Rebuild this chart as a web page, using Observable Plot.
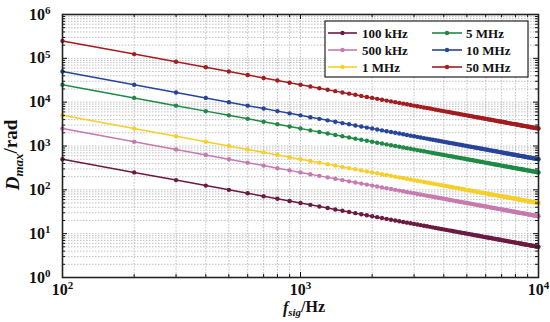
<!DOCTYPE html>
<html><head><meta charset="utf-8">
<script src="https://cdn.jsdelivr.net/npm/d3@7"></script>
<script src="https://cdn.jsdelivr.net/npm/@observablehq/plot@0.6"></script>
<style>body{margin:0;background:#fff} svg{display:block}</style>
</head><body><div id="chart"></div>
<script>
const fsig = [100,200,300,400,500,600,700,800,900,1000,
1100,1200,1300,1400,1500,1600,1700,1800,1900,2000,
2100,2200,2300,2400,2500,2600,2700,2800,2900,3000,
3100,3200,3300,3400,3500,3600,3700,3800,3900,4000,
4100,4200,4300,4400,4500,4600,4700,4800,4900,5000,
5100,5200,5300,5400,5500,5600,5700,5800,5900,6000,
6100,6200,6300,6400,6500,6600,6700,6800,6900,7000,
7100,7200,7300,7400,7500,7600,7700,7800,7900,8000,
8100,8200,8300,8400,8500,8600,8700,8800,8900,9000,
9100,9200,9300,9400,9500,9600,9700,9800,9900,10000];

const d100k = [500,250,166.7,125,100,83.33,71.43,62.5,55.56,50,
45.45,41.67,38.46,35.71,33.33,31.25,29.41,27.78,26.32,25,
23.81,22.73,21.74,20.83,20,19.23,18.52,17.86,17.24,16.67,
16.13,15.63,15.15,14.71,14.29,13.89,13.51,13.16,12.82,12.5,
12.2,11.9,11.63,11.36,11.11,10.87,10.64,10.42,10.2,10,
9.8,9.62,9.43,9.26,9.09,8.93,8.77,8.62,8.47,8.33,
8.2,8.06,7.94,7.81,7.69,7.58,7.46,7.35,7.25,7.14,
7.04,6.94,6.85,6.76,6.67,6.58,6.49,6.41,6.33,6.25,
6.17,6.1,6.02,5.95,5.88,5.81,5.75,5.68,5.62,5.56,
5.49,5.43,5.38,5.32,5.26,5.21,5.15,5.1,5.05,5];

const d500k = [2500,1250,833.3,625,500,416.7,357.1,312.5,277.8,250,
227.3,208.3,192.3,178.6,166.7,156.3,147.1,138.9,131.6,125,
119,113.6,108.7,104.2,100,96.15,92.59,89.29,86.21,83.33,
80.65,78.13,75.76,73.53,71.43,69.44,67.57,65.79,64.1,62.5,
60.98,59.52,58.14,56.82,55.56,54.35,53.19,52.08,51.02,50,
49.02,48.08,47.17,46.3,45.45,44.64,43.86,43.1,42.37,41.67,
40.98,40.32,39.68,39.06,38.46,37.88,37.31,36.76,36.23,35.71,
35.21,34.72,34.25,33.78,33.33,32.89,32.47,32.05,31.65,31.25,
30.86,30.49,30.12,29.76,29.41,29.07,28.74,28.41,28.09,27.78,
27.47,27.17,26.88,26.6,26.32,26.04,25.77,25.51,25.25,25];

const d1M = [5000,2500,1667,1250,1000,833.3,714.3,625,555.6,500,
454.5,416.7,384.6,357.1,333.3,312.5,294.1,277.8,263.2,250,
238.1,227.3,217.4,208.3,200,192.3,185.2,178.6,172.4,166.7,
161.3,156.3,151.5,147.1,142.9,138.9,135.1,131.6,128.2,125,
122,119,116.3,113.6,111.1,108.7,106.4,104.2,102,100,
98.04,96.15,94.34,92.59,90.91,89.29,87.72,86.21,84.75,83.33,
81.97,80.65,79.37,78.13,76.92,75.76,74.63,73.53,72.46,71.43,
70.42,69.44,68.49,67.57,66.67,65.79,64.94,64.1,63.29,62.5,
61.73,60.98,60.24,59.52,58.82,58.14,57.47,56.82,56.18,55.56,
54.95,54.35,53.76,53.19,52.63,52.08,51.55,51.02,50.51,50];

const d5M = [25000,12500,8333,6250,5000,4167,3571,3125,2778,2500,
2273,2083,1923,1786,1667,1563,1471,1389,1316,1250,
1190,1136,1087,1042,1000,961.5,925.9,892.9,862.1,833.3,
806.5,781.3,757.6,735.3,714.3,694.4,675.7,657.9,641,625,
609.8,595.2,581.4,568.2,555.6,543.5,531.9,520.8,510.2,500,
490.2,480.8,471.7,463,454.5,446.4,438.6,431,423.7,416.7,
409.8,403.2,396.8,390.6,384.6,378.8,373.1,367.6,362.3,357.1,
352.1,347.2,342.5,337.8,333.3,328.9,324.7,320.5,316.5,312.5,
308.6,304.9,301.2,297.6,294.1,290.7,287.4,284.1,280.9,277.8,
274.7,271.7,268.8,266,263.2,260.4,257.7,255.1,252.5,250];

const d10M = [50000,25000,16667,12500,10000,8333,7143,6250,5556,5000,
4545,4167,3846,3571,3333,3125,2941,2778,2632,2500,
2381,2273,2174,2083,2000,1923,1852,1786,1724,1667,
1613,1563,1515,1471,1429,1389,1351,1316,1282,1250,
1220,1190,1163,1136,1111,1087,1064,1042,1020,1000,
980.4,961.5,943.4,925.9,909.1,892.9,877.2,862.1,847.5,833.3,
819.7,806.5,793.7,781.3,769.2,757.6,746.3,735.3,724.6,714.3,
704.2,694.4,684.9,675.7,666.7,657.9,649.4,641,632.9,625,
617.3,609.8,602.4,595.2,588.2,581.4,574.7,568.2,561.8,555.6,
549.5,543.5,537.6,531.9,526.3,520.8,515.5,510.2,505.1,500];

const d50M = [250000,125000,83333,62500,50000,41667,35714,31250,27778,25000,
22727,20833,19231,17857,16667,15625,14706,13889,13158,12500,
11905,11364,10870,10417,10000,9615,9259,8929,8621,8333,
8065,7813,7576,7353,7143,6944,6757,6579,6410,6250,
6098,5952,5814,5682,5556,5435,5319,5208,5102,5000,
4902,4808,4717,4630,4545,4464,4386,4310,4237,4167,
4098,4032,3968,3906,3846,3788,3731,3676,3623,3571,
3521,3472,3425,3378,3333,3289,3247,3205,3165,3125,
3086,3049,3012,2976,2941,2907,2874,2841,2809,2778,
2747,2717,2688,2660,2632,2604,2577,2551,2525,2500];

const seriesNames = ["100 kHz","500 kHz","1 MHz","5 MHz","10 MHz","50 MHz"];
const seriesValues = [d100k, d500k, d1M, d5M, d10M, d50M];
const seriesColors = ["#6b1a40","#c67aae","#f5cf2a","#1e8a45","#26449a","#a31c1f"];

const xTicks = [100, 1000, 10000];
const xTickLabels = ["10^2","10^3","10^4"];
const yTicks = [1,10,100,1000,10000,100000,1000000];
const yTickLabels = ["10^0","10^1","10^2","10^3","10^4","10^5","10^6"];

const W = 550, H = 322, mL = 62, mR = 12, mT = 14, mB = 45;
const ph = H - mT - mB, pw = W - mL - mR;

const rows = [];
seriesNames.forEach((name, s) => {
  fsig.forEach((f, i) => rows.push({fsig: f, D: seriesValues[s][i], series: name}));
});

const xAll = d3.scaleLog().domain([100, 10000]).ticks();
const yAll = d3.scaleLog().domain([1, 1e6]).ticks();
const xMinor = xAll.filter(v => !xTicks.includes(v));
const yMinor = yAll.filter(v => !yTicks.includes(v));

const gridStyle = {stroke: "#b0b0b0", strokeWidth: 0.8, strokeDasharray: "1.5,1.5"};

const plot = Plot.plot({
  width: W, height: H,
  marginLeft: mL, marginRight: mR, marginTop: mT, marginBottom: mB,
  style: {fontFamily: "'Liberation Serif', 'Times New Roman', serif", fontSize: "16px", fontWeight: "bold", color: "#111", background: "#fff"},
  x: {type: "log", domain: [100, 10000]},
  y: {type: "log", domain: [1, 1e6]},
  color: {domain: seriesNames, range: seriesColors},
  marks: [
    Plot.ruleX(xAll, {x: d => d, ...gridStyle}),
    Plot.ruleY(yAll, {y: d => d, ...gridStyle}),
    Plot.line(rows, {x: "fsig", y: "D", z: "series", stroke: "series", strokeWidth: 1.5}),
    Plot.dot(rows, {x: "fsig", y: "D", fill: "series", r: 2.2}),
    // inward ticks
    Plot.tickX(xTicks, {x: d => d, insetTop: ph - 5, stroke: "#111", strokeWidth: 1}),
    Plot.tickX(xTicks, {x: d => d, insetBottom: ph - 5, stroke: "#111", strokeWidth: 1}),
    Plot.tickX(xMinor, {x: d => d, insetTop: ph - 3, stroke: "#111", strokeWidth: 1}),
    Plot.tickX(xMinor, {x: d => d, insetBottom: ph - 3, stroke: "#111", strokeWidth: 1}),
    Plot.tickY(yTicks, {y: d => d, insetRight: pw - 5, stroke: "#111", strokeWidth: 1}),
    Plot.tickY(yTicks, {y: d => d, insetLeft: pw - 5, stroke: "#111", strokeWidth: 1}),
    Plot.tickY(yMinor, {y: d => d, insetRight: pw - 3, stroke: "#111", strokeWidth: 1}),
    Plot.tickY(yMinor, {y: d => d, insetLeft: pw - 3, stroke: "#111", strokeWidth: 1}),
    Plot.axisX({ticks: xTicks, tickFormat: d => xTickLabels[xTicks.indexOf(d)], tickSize: 0, tickPadding: 6, label: null}),
    Plot.axisY({ticks: yTicks, tickFormat: d => yTickLabels[yTicks.indexOf(d)], tickSize: 0, tickPadding: 12, label: null}),
    Plot.frame({stroke: "#222", strokeWidth: 1.6})
  ]
});

document.getElementById("chart").appendChild(plot);
const svg = d3.select(plot);

// superscript exponents in tick labels
svg.selectAll("text").each(function() {
  const t = this.textContent;
  const m = /^10\^(\d+)$/.exec(t);
  if (!m) return;
  const el = d3.select(this);
  el.text("10");
  el.append("tspan").attr("dy", "-0.5em").attr("font-size", "11px").text(m[1]);
});

const font = "'Liberation Serif', 'Times New Roman', serif";

// y axis title
const yt = svg.append("text")
  .attr("transform", `translate(19,155) rotate(-90)`)
  .attr("text-anchor", "middle")
  .attr("font-family", font).attr("font-size", 19).attr("font-weight", "bold").attr("fill", "#111");
yt.append("tspan").attr("font-style", "italic").text("D");
yt.append("tspan").attr("font-style", "italic").attr("font-size", 13).attr("dy", "0.3em").text("max");
yt.append("tspan").attr("dy", "-0.3em").text("/rad");

// x axis title
const xt = svg.append("text")
  .attr("x", 304).attr("y", 313)
  .attr("text-anchor", "middle")
  .attr("font-family", font).attr("font-size", 16).attr("font-weight", "bold").attr("fill", "#111");
xt.append("tspan").attr("font-style", "italic").text("f");
xt.append("tspan").attr("font-style", "italic").attr("font-size", 11).attr("dy", "0.3em").text("sig");
xt.append("tspan").attr("dy", "-0.3em").text("/Hz");

// legend
const lg = svg.append("g").attr("font-family", font).attr("font-size", 13).attr("font-weight", "bold").attr("text-anchor", "start");
lg.append("rect").attr("x", 325).attr("y", 21).attr("width", 203).attr("height", 56)
  .attr("fill", "#fff").attr("stroke", "#222").attr("stroke-width", 1.2);
const colX = [[328, 357, 362], [432, 462, 466]];
const rowY = [33, 50, 67];
seriesNames.forEach((name, i) => {
  const c = Math.floor(i / 3), r = i % 3;
  const [x1, x2, tx] = colX[c];
  const y = rowY[r];
  lg.append("line").attr("x1", x1).attr("x2", x2).attr("y1", y).attr("y2", y)
    .attr("stroke", seriesColors[i]).attr("stroke-width", 1.6);
  lg.append("circle").attr("cx", (x1 + x2) / 2).attr("cy", y).attr("r", 2.2).attr("fill", seriesColors[i]);
  lg.append("text").attr("x", tx).attr("y", y).attr("dy", "0.35em").attr("text-anchor", "start").attr("fill", "#111").text(name);
});
</script>
</body></html>
